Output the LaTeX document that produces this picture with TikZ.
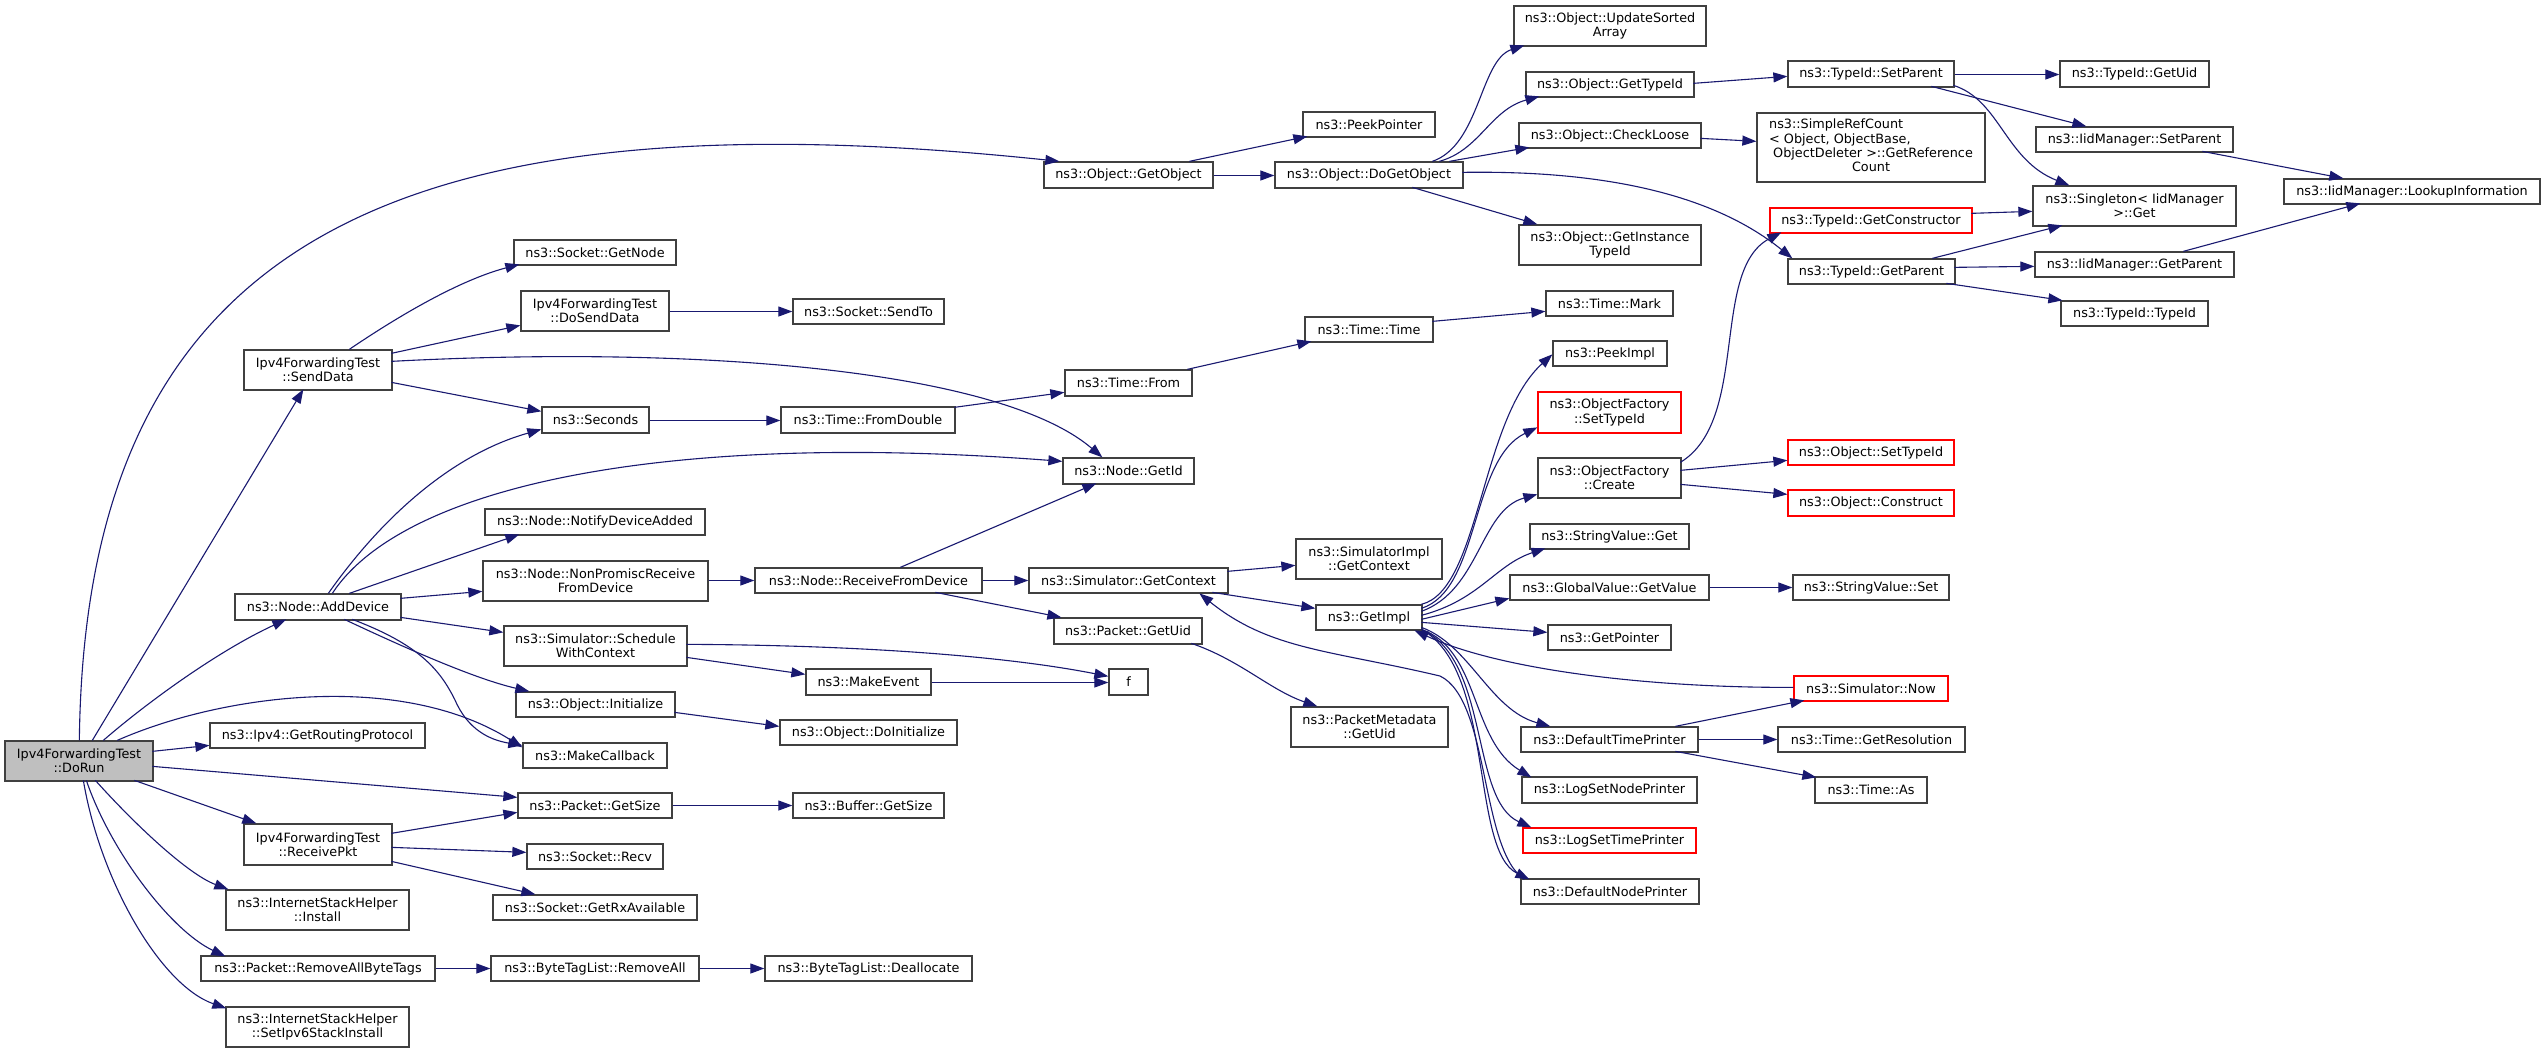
\documentclass[tikz,border=0pt]{standalone}
\usepackage{fontspec}
\setmainfont{DejaVu Sans}
\usetikzlibrary{arrows.meta,calc}
\definecolor{edgec}{RGB}{25,25,112}
\definecolor{boxc}{RGB}{64,64,64}
\definecolor{rootfill}{RGB}{191,191,191}
\definecolor{truncc}{RGB}{255,0,0}
\tikzset{
  box/.style={draw=boxc, line width=1.3pt, fill=white, inner sep=0pt, align=center,
    font=\fontsize{12.8}{14.3}\selectfont, text=black},
  trunc/.style={draw=truncc},
  rootbox/.style={fill=rootfill},
  conn/.style={draw=edgec, line width=1.1pt, -{Triangle[length=14pt,width=10pt]}},
}
\newcommand\bx[7][]{\node[box,#1,minimum width={(#4-#2)*1pt},minimum height={(#5-#3)*1pt}] (#6) at ({(#2+#4)/2},{(#3+#5)/2}) {#7};}
\begin{document}
\begin{tikzpicture}[x=1pt,y=-1pt]
\fill[white] (0,0) rectangle (2545,1053);
\useasboundingbox (0,0) rectangle (2545,1053);
% column 1-2
\bx[rootbox]{5}{741}{153}{781}{dorun}{Ipv4ForwardingTest\\::DoRun}
\bx{244}{350}{392}{390}{senddata}{Ipv4ForwardingTest\\::SendData}
\bx{235}{594}{401}{620}{adddev}{ns3::Node::AddDevice}
\bx{210}{723}{425}{748}{getrp}{ns3::Ipv4::GetRoutingProtocol}
\bx{244}{824}{392}{865}{recvpkt}{Ipv4ForwardingTest\\::ReceivePkt}
\bx{226}{890}{409}{930}{ishinst}{ns3::InternetStackHelper\\::Install}
\bx{201}{956}{435}{981}{rmabt}{ns3::Packet::RemoveAllByteTags}
\bx{226}{1007}{409}{1047}{setipv6}{ns3::InternetStackHelper\\::SetIpv6StackInstall}
% column 3
\bx{514}{240}{676}{265}{getnode}{ns3::Socket::GetNode}
\bx{521}{291}{669}{331}{dosend}{Ipv4ForwardingTest\\::DoSendData}
\bx{542}{407}{649}{433}{seconds}{ns3::Seconds}
\bx{485}{509}{705}{535}{notify}{ns3::Node::NotifyDeviceAdded}
\bx{483}{561}{708}{601}{nonprom}{ns3::Node::NonPromiscReceive\\FromDevice}
\bx{504}{626}{687}{666}{sched}{ns3::Simulator::Schedule\\WithContext}
\bx{516}{692}{675}{717}{objinit}{ns3::Object::Initialize}
\bx{523}{743}{667}{768}{mkcb}{ns3::MakeCallback}
\bx{518}{793}{672}{818}{pgetsize}{ns3::Packet::GetSize}
\bx{527}{844}{663}{869}{recv}{ns3::Socket::Recv}
\bx{493}{895}{697}{920}{rxavail}{ns3::Socket::GetRxAvailable}
\bx{491}{956}{699}{981}{rmall}{ns3::ByteTagList::RemoveAll}
% column 4
\bx{793}{299}{944}{324}{sendto}{ns3::Socket::SendTo}
\bx{781}{407}{955}{433}{fromdbl}{ns3::Time::FromDouble}
\bx{755}{568}{982}{593}{rfd}{ns3::Node::ReceiveFromDevice}
\bx{806}{669}{931}{695}{mkevent}{ns3::MakeEvent}
\bx{780}{720}{957}{745}{doinit}{ns3::Object::DoInitialize}
\bx{793}{793}{944}{818}{bgetsize}{ns3::Buffer::GetSize}
\bx{765}{956}{972}{981}{dealloc}{ns3::ByteTagList::Deallocate}
% column 5
\bx{1044}{162}{1213}{188}{getobj}{ns3::Object::GetObject}
\bx{1065}{370}{1192}{396}{timefrom}{ns3::Time::From}
\bx{1063}{458}{1194}{484}{getid}{ns3::Node::GetId}
\bx{1029}{568}{1228}{593}{simctx}{ns3::Simulator::GetContext}
\bx{1054}{618}{1202}{644}{pgetuid}{ns3::Packet::GetUid}
\bx{1109}{669}{1148}{695}{f}{f}
% column 6
\bx{1303}{112}{1435}{137}{peekptr}{ns3::PeekPointer}
\bx{1275}{162}{1463}{188}{dogetobj}{ns3::Object::DoGetObject}
\bx{1305}{317}{1433}{342}{timetime}{ns3::Time::Time}
\bx{1296}{539}{1442}{579}{simimplctx}{ns3::SimulatorImpl\\::GetContext}
\bx{1316}{605}{1422}{630}{getimpl}{ns3::GetImpl}
\bx{1291}{707}{1448}{747}{pmgetuid}{ns3::PacketMetadata\\::GetUid}
% column 7
\bx{1514}{6}{1706}{46}{upd}{ns3::Object::UpdateSorted\\Array}
\bx{1526}{72}{1694}{97}{ogettid}{ns3::Object::GetTypeId}
\bx{1519}{123}{1701}{148}{chkloose}{ns3::Object::CheckLoose}
\bx{1519}{225}{1701}{265}{getinst}{ns3::Object::GetInstance\\TypeId}
\bx{1546}{291}{1673}{316}{mark}{ns3::Time::Mark}
\bx{1553}{341}{1667}{366}{peekimpl}{ns3::PeekImpl}
\bx[trunc]{1538}{392}{1681}{433}{ofsettid}{ns3::ObjectFactory\\::SetTypeId}
\bx{1538}{458}{1681}{498}{ofcreate}{ns3::ObjectFactory\\::Create}
\bx{1530}{524}{1689}{549}{svget}{ns3::StringValue::Get}
\bx{1510}{575}{1709}{600}{gvget}{ns3::GlobalValue::GetValue}
\bx{1548}{625}{1671}{650}{getptr}{ns3::GetPointer}
\bx{1521}{727}{1698}{752}{dtp}{ns3::DefaultTimePrinter}
\bx{1522}{777}{1697}{803}{lsnp}{ns3::LogSetNodePrinter}
\bx[trunc]{1523}{828}{1696}{853}{lstp}{ns3::LogSetTimePrinter}
\bx{1521}{879}{1699}{904}{dnp}{ns3::DefaultNodePrinter}
% column 8
\bx{1757}{113}{1985}{182}{simpleref}{\begin{tabular}{@{}l@{}}ns3::SimpleRefCount\\< Object, ObjectBase,\\\ ObjectDeleter >::GetReference\\\multicolumn{1}{@{}c@{}}{Count}\end{tabular}}
\bx{1788}{61}{1954}{87}{tsetpar}{ns3::TypeId::SetParent}
\bx[trunc]{1770}{208}{1972}{233}{getctor}{ns3::TypeId::GetConstructor}
\bx{1788}{259}{1955}{284}{tgetpar}{ns3::TypeId::GetParent}
\bx[trunc]{1788}{440}{1954}{465}{osettid}{ns3::Object::SetTypeId}
\bx[trunc]{1788}{490}{1954}{516}{oconstruct}{ns3::Object::Construct}
\bx{1793}{575}{1949}{600}{svset}{ns3::StringValue::Set}
\bx[trunc]{1794}{676}{1948}{701}{simnow}{ns3::Simulator::Now}
\bx{1778}{727}{1965}{752}{getres}{ns3::Time::GetResolution}
\bx{1815}{777}{1927}{803}{timeas}{ns3::Time::As}
% column 9-10
\bx{2060}{61}{2209}{87}{tgetuid}{ns3::TypeId::GetUid}
\bx{2036}{127}{2233}{152}{isetpar}{ns3::IidManager::SetParent}
\bx{2033}{186}{2236}{226}{singleton}{ns3::Singleton< IidManager\\>::Get}
\bx{2035}{252}{2234}{277}{igetpar}{ns3::IidManager::GetParent}
\bx{2061}{301}{2208}{326}{typeid}{ns3::TypeId::TypeId}
\bx{2284}{179}{2540}{204}{lookup}{ns3::IidManager::LookupInformation}

% ---------- connectors ----------
% from DoRun
\draw[conn] ($(dorun.north west)+(75,0)$) .. controls (85,250) and (380,90) .. ($(getobj.north west)+(16,0)$);
\draw[conn] ($(dorun.north west)+(88,0)$) -- ($(senddata.north west)+(60,40)$);
\draw[conn] ($(dorun.north west)+(99,0)$) .. controls (150,700) and (220,650) .. ($(adddev.north west)+(52,26)$);
\draw[conn] ($(dorun.north west)+(113,0)$) .. controls (220,695) and (400,670) .. ($(mkcb.north west)+(0,5)$);
\draw[conn] ($(dorun.north west)+(148,11)$) -- ($(getrp.north west)+(0,23)$);
\draw[conn] ($(dorun.north west)+(148,26)$) -- ($(pgetsize.north west)+(0,5)$);
\draw[conn] ($(dorun.north west)+(130,40)$) -- ($(recvpkt.north west)+(13,0)$);
\draw[conn] ($(dorun.north west)+(91,40)$) .. controls (140,830) and (190,875) .. ($(ishinst.north west)+(3,0)$);
\draw[conn] ($(dorun.north west)+(82,40)$) .. controls (110,850) and (170,930) .. ($(rmabt.north west)+(25,1)$);
\draw[conn] ($(dorun.north west)+(79,40)$) .. controls (100,880) and (160,985) .. ($(setipv6.north west)+(1,2)$);
% from SendData
\draw[conn] ($(senddata.north west)+(106,0)$) .. controls (400,315) and (460,280) .. ($(getnode.north west)+(6,25)$);
\draw[conn] ($(senddata.north west)+(148,4)$) -- ($(dosend.north west)+(0,35)$);
\draw[conn] ($(senddata.north west)+(148,12)$) .. controls (700,345) and (1000,370) .. ($(getid.north west)+(40,0)$);
\draw[conn] ($(senddata.north west)+(148,33)$) -- ($(seconds.north west)+(0,5)$);
% from AddDevice
\draw[conn] ($(adddev.north west)+(94,0)$) .. controls (380,520) and (450,455) .. ($(seconds.north west)+(0,23)$);
\draw[conn] ($(adddev.north west)+(98,0)$) .. controls (400,490) and (650,430) .. ($(getid.north west)+(0,4)$);
\draw[conn] ($(adddev.north west)+(115,0)$) -- ($(notify.north west)+(35,26)$);
\draw[conn] ($(adddev.north west)+(166,5)$) -- ($(nonprom.north west)+(0,31)$);
\draw[conn] ($(adddev.north west)+(166,24)$) -- ($(sched.north west)+(0,7)$);
\draw[conn] ($(adddev.north west)+(110,26)$) .. controls (420,655) and (480,680) .. ($(objinit.north west)+(14,0)$);
\draw[conn] ($(adddev.north west)+(118,26)$) .. controls (420,645) and (440,670) .. (455,700) .. controls (468,730) and (490,740) .. ($(mkcb.north west)+(0,3)$);
% column 3 onwards
\draw[conn] ([yshift=0.5pt]nonprom.east) -- (rfd.west);
\draw[conn] ($(rfd.north west)+(146,0)$) -- ($(getid.north west)+(34,26)$);
\draw[conn] (rfd.east) -- (simctx.west);
\draw[conn] ($(rfd.north west)+(181,25)$) -- ($(pgetuid.north west)+(8,0)$);
\draw[conn] ($(sched.north west)+(183,19)$) .. controls (850,645) and (1000,655) .. ($(f.north west)+(0,8)$);
\draw[conn] ($(sched.north west)+(183,32)$) -- ($(mkevent.north west)+(0,6)$);
\draw[conn] ([yshift=-0.5pt]mkevent.east) -- ([yshift=-0.5pt]f.west);
\draw[conn] ($(objinit.north west)+(159,21)$) -- ($(doinit.north west)+(0,7)$);
\draw[conn] (pgetsize.east) -- (bgetsize.west);
\draw[conn] ($(recvpkt.north west)+(148,10)$) -- ($(pgetsize.north west)+(0,20)$);
\draw[conn] ($(recvpkt.north west)+(148,24)$) -- ($(recv.north west)+(0,9)$);
\draw[conn] ($(recvpkt.north west)+(148,38)$) -- ($(rxavail.north west)+(43,0)$);
\draw[conn] (rmabt.east) -- (rmall.west);
\draw[conn] (rmall.east) -- (dealloc.west);
\draw[conn] ([yshift=-0.5pt]dosend.east) -- (sendto.west);
\draw[conn] ([yshift=-0.5pt]seconds.east) -- ([yshift=-0.5pt]fromdbl.west);
\draw[conn] ($(fromdbl.north west)+(174,1)$) -- ($(timefrom.north west)+(0,23)$);
\draw[conn] ($(timefrom.north west)+(123,0)$) -- ($(timetime.north west)+(7,25)$);
\draw[conn] ($(timetime.north west)+(128,5)$) -- ($(mark.north west)+(0,21)$);
\draw[conn] ($(getobj.north west)+(146,0)$) -- ($(peekptr.north west)+(5,25)$);
\draw[conn] ([yshift=-0.5pt]getobj.east) -- ([yshift=-0.5pt]dogetobj.west);
% from DoGetObject
\draw[conn] ($(dogetobj.north west)+(158,0)$) .. controls (1480,145) and (1480,60) .. ($(upd.north west)+(11,40)$);
\draw[conn] ($(dogetobj.north west)+(165,0)$) .. controls (1480,150) and (1490,110) .. ($(ogettid.north west)+(14,25)$);
\draw[conn] ($(dogetobj.north west)+(175,0)$) -- ($(chkloose.north west)+(11,25)$);
\draw[conn] ($(dogetobj.north west)+(138,26)$) -- ($(getinst.north west)+(19,0)$);
\draw[conn] ($(dogetobj.north west)+(188,11)$) .. controls (1620,170) and (1720,200) .. ($(tgetpar.north west)+(5,0)$);
\draw[conn] ($(ogettid.north west)+(168,12)$) -- ($(tsetpar.north west)+(0,16)$);
\draw[conn] ($(chkloose.north west)+(182,16)$) -- ($(simpleref.north west)+(0,29)$);
% TypeId / IidManager
\draw[conn] ([yshift=-0.5pt]tsetpar.east) -- ([yshift=-0.5pt]tgetuid.west);
\draw[conn] ($(tsetpar.north west)+(144,26)$) -- ($(isetpar.north west)+(51,0)$);
\draw[conn] ($(tsetpar.north west)+(166,25)$) .. controls (2000,100) and (2005,160) .. ($(singleton.north west)+(37,0)$);
\draw[conn] ($(isetpar.north west)+(167,25)$) -- ($(lookup.north west)+(60,0)$);
\draw[conn] ($(igetpar.north west)+(149,0)$) -- ($(lookup.north west)+(77,25)$);
\draw[conn] ($(getctor.north west)+(202,6)$) -- ($(singleton.north west)+(0,26)$);
\draw[conn] ($(tgetpar.north west)+(145,0)$) -- ($(singleton.north west)+(30,40)$);
\draw[conn] ($(tgetpar.north west)+(167,9)$) -- ($(igetpar.north west)+(0,15)$);
\draw[conn] ($(tgetpar.north west)+(159,25)$) -- ($(typeid.north west)+(2,0)$);
% Simulator
\draw[conn] ($(simctx.north west)+(199,4)$) -- ($(simimplctx.north west)+(0,27)$);
\draw[conn] ($(simctx.north west)+(184,25)$) -- ($(getimpl.north west)+(0,4)$);
\draw[conn] ($(pgetuid.north west)+(138,26)$) .. controls (1240,660) and (1270,690) .. ($(pmgetuid.north west)+(27,0)$);
\draw[conn] ($(ofcreate.north west)+(143,5)$) .. controls (1750,420) and (1710,270) .. ($(getctor.north west)+(12,25)$);
\draw[conn] ($(ofcreate.north west)+(143,13)$) -- ($(osettid.north west)+(0,21)$);
\draw[conn] ($(ofcreate.north west)+(143,27)$) -- ($(oconstruct.north west)+(0,5)$);
\draw[conn] (gvget.east) -- (svset.west);
\draw[conn] ($(dtp.north west)+(155,0)$) -- ($(simnow.north west)+(11,25)$);
\draw[conn] (dtp.east) -- (getres.west);
\draw[conn] ($(dtp.north west)+(155,25)$) -- ($(timeas.north west)+(2,1)$);
% from GetImpl
\draw[conn] ($(getimpl.north west)+(106,0)$) .. controls (1480,590) and (1480,420) .. ($(peekimpl.north west)+(0,14)$);
\draw[conn] ($(getimpl.north west)+(106,4)$) .. controls (1480,590) and (1470,460) .. ($(ofsettid.north west)+(0,36)$);
\draw[conn] ($(getimpl.north west)+(106,7)$) .. controls (1480,590) and (1480,510) .. ($(ofcreate.north west)+(0,37)$);
\draw[conn] ($(getimpl.north west)+(106,11)$) .. controls (1480,600) and (1495,565) .. ($(svget.north west)+(16,25)$);
\draw[conn] ($(getimpl.north west)+(106,15)$) -- ($(gvget.north west)+(0,24)$);
\draw[conn] ($(getimpl.north west)+(106,18)$) -- ($(getptr.north west)+(0,8)$);
\draw[conn] ($(getimpl.north west)+(106,23)$) .. controls (1470,645) and (1490,710) .. ($(dtp.north west)+(30,0)$);
\draw[conn] ($(getimpl.north west)+(106,25)$) .. controls (1480,650) and (1470,740) .. ($(lsnp.north west)+(10,1)$);
\draw[conn] ($(getimpl.north west)+(106,25)$) .. controls (1490,660) and (1470,800) .. ($(lstp.north west)+(9,0)$);
\draw[conn] ($(getimpl.north west)+(106,25)$) .. controls (1495,670) and (1470,850) .. ($(dnp.north west)+(9,1)$);
% back edges
\draw[conn] ($(simnow.north west)+(0,12)$) .. controls (1650,688) and (1500,670) .. ($(getimpl.north west)+(99,26)$);
\draw[conn] ($(dnp.north west)+(4,1)$) .. controls (1480,850) and (1490,700) .. (1440,676) .. controls (1330,650) and (1270,650) .. ($(simctx.north west)+(171,26)$);
\end{tikzpicture}
\end{document}
